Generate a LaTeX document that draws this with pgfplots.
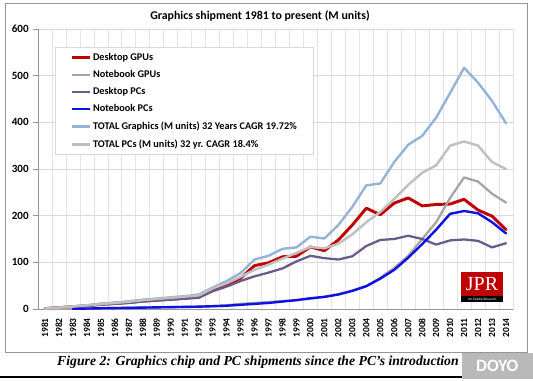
\documentclass[border=0pt]{standalone}
\usepackage{fontspec}
\setmainfont{Carlito}
\newfontfamily\capfont{Liberation Serif}
\usepackage{pgfplots}
\usepackage{pgfplotstable}
\pgfplotsset{compat=1.18}
\definecolor{dgpu}{RGB}{192,0,0}
\definecolor{ngpu}{RGB}{165,165,165}
\definecolor{dpc}{RGB}{106,90,140}
\definecolor{npc}{RGB}{16,16,230}
\definecolor{tgr}{RGB}{149,179,215}
\definecolor{tpc}{RGB}{191,191,191}
\definecolor{gridc}{RGB}{217,217,217}
\definecolor{vgridc}{RGB}{228,228,228}
\definecolor{axc}{RGB}{150,150,150}
\pgfplotstableread{
year DG NG DP NP TG TP
1981 1 0 1 nan 1 1
1982 3 0 3 nan 3 3
1983 5 0.5 5 0.5 5.5 5.5
1984 7 1 7 1 8 8
1985 10 1.5 9 1.5 11.5 10.5
1986 12 2 11 2 14 13
1987 14 2.5 13 2.5 16.5 15.5
1988 17 3 16 3 20 19
1989 19 3.5 18 3.5 22.5 21.5
1990 21 4 20 4 25 24
1991 23 4.5 22 4.5 27.5 26.5
1992 26 5 24 5 31 29
1993 40 6 38 6 46 44
1994 52 8 48 7 60 55
1995 66 11 60 9 77 69
1996 93 13 70 11 106 84
1997 99 15 78 13 114 95
1998 112 17 87 16 129 108
1999 113 19 102 19 132 120
2000 133 22 114 23 155 133
2001 125 26 109 26 151 130
2002 148 32 106 31 180 140
2003 180 39 113 39 219 160
2004 216 49 135 49 265 186
2005 202 67 148 65 269 208
2006 227 88 150 84 315 236
2007 238 114 157 110 352 266
2008 221 150 150 139 371 292
2009 224 186 138 170 410 308
2010 225 238 147 204 463 350
2011 235 282 149 210 517 359
2012 212 273 146 205 485 350
2013 199 247 132 186 446 315
2014 170 228 141 162 398 300
}\data
\begin{document}
\begin{tikzpicture}
\path[use as bounding box] (0pt,0pt) rectangle (399.75pt,285pt);
% outer chart frame
\draw[draw=axc, line width=0.6pt] (3.75pt,21pt) rectangle (395.25pt,282.75pt);
\begin{axis}[
  at={(28.5pt,53.25pt)}, anchor=south west,
  width=356.25pt, height=210pt, scale only axis,
  xmin=1980.5, xmax=2014.5, ymin=0, ymax=600,
  xtick={1981,1982,...,2014},
  minor xtick={1980.5,1981.5,...,2014.5},
  ytick={0,100,...,600},
  xminorgrids, ymajorgrids,
  major grid style={draw=gridc, line width=0.6pt},
  minor grid style={draw=vgridc, line width=0.5pt},
  axis x line*=bottom, axis y line*=left,
  axis line style={draw=axc, line width=0.6pt, -},
  xtick style={draw=none}, minor tick length=0pt,
  ytick style={draw=axc, line width=0.6pt},
  tick align=outside, major tick length=3.5pt,
  /pgf/number format/assume math mode=true,
  x tick label style={/pgf/number format/1000 sep={}, rotate=90, anchor=east, font=\fontsize{7.1}{7.5}\selectfont\bfseries},
  y tick label style={font=\fontsize{8.3}{9}\selectfont\bfseries},
  legend cell align=left,
  legend style={at={(0.0358,0.936)}, anchor=north west, draw=gridc, line width=0.6pt,
    font=\fontsize{7.7}{9}\selectfont\bfseries, row sep=4.4pt, inner xsep=11.5pt, inner ysep=3.5pt,
    nodes={inner xsep=1pt, inner ysep=0.8pt}},
  legend image code/.code={\draw[#1] (0pt,0pt) -- (13.5pt,0pt);},
  line join=round, line cap=round,
  unbounded coords=discard,
]
\addplot[draw=dgpu, line width=2.2pt] table[x=year,y=DG] {\data};
\addlegendentry{Desktop GPUs}
\addplot[draw=ngpu, line width=1.7pt] table[x=year,y=NG] {\data};
\addlegendentry{Notebook GPUs}
\addplot[draw=dpc, line width=1.7pt] table[x=year,y=DP] {\data};
\addlegendentry{Desktop PCs}
\addplot[draw=npc, line width=1.8pt] table[x=year,y=NP] {\data};
\addlegendentry{Notebook PCs}
\addplot[draw=tgr, line width=1.8pt] table[x=year,y=TG] {\data};
\addlegendentry{TOTAL Graphics (M units) 32 Years CAGR 19.72\%}
\addplot[draw=tpc, line width=1.8pt] table[x=year,y=TP] {\data};
\addlegendentry{TOTAL PCs (M units) 32 yr. CAGR 18.4\%}
\end{axis}
% title
\node[font=\fontsize{8.9}{10}\selectfont\bfseries] at (195pt,273pt) {Graphics shipment 1981 to present (M units)};
% JPR logo
\fill[dgpu] (345.75pt,63pt) rectangle (377.25pt,81pt);
\fill[black] (345.75pt,58.5pt) rectangle (377.25pt,63pt);
\node[text=white, font=\capfont\fontsize{15}{15}\selectfont, inner sep=0pt] at (361.5pt,72pt) {JPR};
\node[text=white, font=\fontsize{2.6}{3}\selectfont, inner sep=0pt] at (361.5pt,60.75pt) {Jon Peddie Research};
% caption
\node[font=\capfont\fontsize{10.3}{12}\selectfont\bfseries\itshape] at (193.5pt,13.5pt) {Figure 2: Graphics chip and PC shipments since the PC’s introduction};
\draw[black, line width=0.8pt] (0pt,2.25pt) -- (347pt,2.25pt);
% watermark
\fill[gray!55] (346.5pt,1pt) rectangle (399.75pt,20pt);
\node[text=white, font=\fontsize{13}{13}\selectfont\bfseries, inner sep=0pt] at (373pt,10.5pt) {DOYO};
\end{tikzpicture}
\end{document}
